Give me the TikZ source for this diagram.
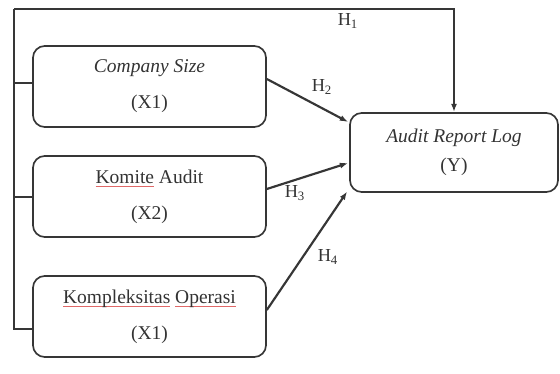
\documentclass[tikz,border=0pt]{standalone}
\usepackage{fontspec}
\setmainfont{Liberation Serif}
\usetikzlibrary{arrows.meta,positioning,calc}
\definecolor{linegray}{HTML}{363636}
\definecolor{textgray}{HTML}{333333}
\definecolor{spellred}{HTML}{E06868}
\newsavebox{\spellbox}
\newcommand{\spellmark}[1]{\sbox{\spellbox}{#1}\rlap{\textcolor{spellred}{\rule[-2.4pt]{\wd\spellbox}{0.6pt}}}\usebox{\spellbox}}

\begin{document}
\begin{tikzpicture}[x=0.6pt,y=-0.6pt,
    varbox/.style={draw=linegray,line width=1pt,rounded corners=7pt,
      minimum width=139.8pt,minimum height=48.6pt,align=center,
      text=textgray,font=\fontsize{11.7}{21.5}\selectfont},
    conn/.style={draw=linegray,line width=1.3pt},
    arr/.style={conn,-{Latex[length=5pt,width=3.6pt]}},
    hlabel/.style={text=textgray,font=\fontsize{11}{13}\selectfont,inner sep=0pt}]
    \useasboundingbox (0,0) rectangle (560,374);
    % variables
    \node[varbox] (size) at (149.5,86.5) {\textit{Company Size}\\(X1)};
    \node[varbox] (komite) at (149.5,196.5) {\spellmark{Komite} Audit\\(X2)};
    \node[varbox] (kompleks) at (149.5,316.5) {\spellmark{Kompleksitas} \spellmark{Operasi}\\(X1)};
    \node[varbox,minimum width=124.8pt,minimum height=47.4pt,
      font=\fontsize{11.7}{17.5}\selectfont] (arl) at (454,152.5) {\textit{Audit Report Log}\\(Y)};
    % left frame
    \coordinate (top) at (14,9);
    \coordinate (bot) at (14,329);
    \coordinate (j1) at (14,83);
    \coordinate (j2) at (14,197);
    \draw[conn] (top) -- (bot) -- (bot -| kompleks.west);
    \draw[conn] (j1) -- (j1 -| size.west);
    \draw[conn] (j2) -- (j2 -| komite.west);
    \draw[arr] (top) -| (arl.north);
    % hypotheses
    \draw[arr] ($(size.east)+(0,-7.5)$) -- ($(arl.west)+(-1,-30.5)$);
    \draw[arr] ($(komite.east)+(0,-7.5)$) -- ($(arl.west)+(-1,10.5)$);
    \draw[arr] ($(kompleks.east)+(0,-6.5)$) -- ($(arl.west)+(-2,39)$);
    \node[hlabel] (h1) at (348,21) {H\textsubscript{1}};
    \node[hlabel] (h2) at (322,87) {H\textsubscript{2}};
    \node[hlabel] (h3) at (295,193) {H\textsubscript{3}};
    \node[hlabel] (h4) at (328,257) {H\textsubscript{4}};
\end{tikzpicture}
\end{document}
